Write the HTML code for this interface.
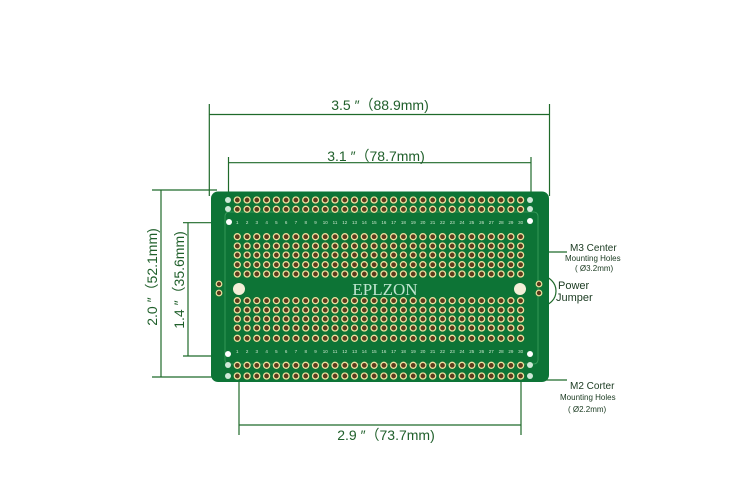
<!DOCTYPE html>
<html><head><meta charset="utf-8"><style>
html,body{margin:0;padding:0;background:#fff;width:750px;height:500px;overflow:hidden}
svg{display:block}
.t{font-family:"Liberation Sans",sans-serif;fill:#1f5f2a;font-size:14px}
</style></head><body>
<svg id="s" width="750" height="500" xmlns="http://www.w3.org/2000/svg">
<g stroke="#1f6a2a" stroke-width="1.2" fill="none">
<line x1="209" y1="114.5" x2="550" y2="114.5"/><line x1="209.3" y1="104" x2="209.3" y2="196"/><line x1="549.5" y1="104" x2="549.5" y2="196"/>
<line x1="228.5" y1="162.7" x2="531" y2="162.7"/><line x1="228.5" y1="157" x2="228.5" y2="200"/><line x1="531" y1="157" x2="531" y2="200"/>
<line x1="152" y1="190" x2="217" y2="190"/><line x1="161" y1="190" x2="161" y2="377"/><line x1="152" y1="377" x2="217" y2="377"/>
<line x1="183" y1="222.7" x2="232" y2="222.7"/><line x1="188" y1="222.7" x2="188" y2="356"/><line x1="183" y1="356" x2="232" y2="356"/>
<line x1="239" y1="290" x2="239" y2="435"/><line x1="521" y1="290" x2="521" y2="435"/><line x1="239" y1="425" x2="521" y2="425"/>
<polyline points="520,290 545,252 567,252"/><polyline points="517,346 545,380 567,380"/>
<path d="M541,276 A14,14 0 0 1 541,306"/>
</g>
<text class="t" x="380" y="110" text-anchor="middle">3.5 ″（88.9mm)</text>
<text class="t" x="376" y="161" text-anchor="middle">3.1 ″（78.7mm)</text>
<text class="t" x="386" y="440" text-anchor="middle">2.9 ″（73.7mm)</text>
<text class="t" transform="translate(157,277) rotate(-90)" text-anchor="middle">2.0 ″（52.1mm)</text>
<text class="t" transform="translate(184,280) rotate(-90)" text-anchor="middle">1.4 ″（35.6mm)</text>
<g font-family="Liberation Sans,sans-serif" fill="#1a3a20">
<text x="570" y="251" font-size="10">M3 Center</text>
<text x="565" y="261" font-size="8">Mounting Holes</text>
<text x="575" y="271" font-size="8">( Ø3.2mm)</text>
<text x="558" y="289" font-size="11">Power</text>
<text x="556" y="301" font-size="11">Jumper</text>
<text x="570" y="389" font-size="10">M2 Corter</text>
<text x="560" y="400" font-size="8">Mounting Holes</text>
<text x="568" y="412" font-size="8">( Ø2.2mm)</text>
</g>
<rect x="211" y="191.5" width="338" height="190.5" rx="7" fill="#0d7436"/>
<rect x="225" y="212" width="313" height="152" rx="4" fill="none" stroke="#3fa060" stroke-width="0.8"/>
<g id="holes"></g>
<text x="385" y="295" text-anchor="middle" font-family="Liberation Serif,serif" font-size="17" fill="#bfe6d0">EPLZON</text>
<circle cx="239" cy="289" r="6" fill="#f4eed8"/><circle cx="520" cy="289" r="6" fill="#f4eed8"/>
<circle cx="229" cy="222" r="3" fill="#fff"/><circle cx="530" cy="221" r="3" fill="#fff"/>
<circle cx="228" cy="354" r="3" fill="#fff"/><circle cx="530" cy="354" r="3" fill="#fff"/>
</svg>
<script>
var g=document.getElementById('holes'),h='';
var ys=[200,209.3,236.7,246,255,264.7,274,300.7,310,319,328,338.3,365.3,376];
for(var i=0;i<30;i++){var x=237.3+i*9.77;
for(var j=0;j<ys.length;j++){h+='<circle cx="'+x.toFixed(1)+'" cy="'+ys[j]+'" r="3" fill="#5e3a1c" stroke="#eee2a0" stroke-width="1.3"/>';}
h+='<text x="'+x.toFixed(1)+'" y="224" font-size="4.5" fill="#cfe8d0" text-anchor="middle" font-family="Liberation Sans">'+(i+1)+'</text>';
h+='<text x="'+x.toFixed(1)+'" y="353" font-size="4.5" fill="#cfe8d0" text-anchor="middle" font-family="Liberation Sans">'+(i+1)+'</text>';}
[200,209,365,376].forEach(function(y){h+='<circle cx="228" cy="'+y+'" r="3" fill="#cfe8d8"/><circle cx="530" cy="'+y+'" r="3" fill="#cfe8d8"/>';});
[284,293].forEach(function(y){h+='<circle cx="219" cy="'+y+'" r="2.8" fill="#5e3a1c" stroke="#eee2a0" stroke-width="1.2"/><circle cx="539" cy="'+y+'" r="2.8" fill="#5e3a1c" stroke="#eee2a0" stroke-width="1.2"/>';});
g.innerHTML=h;
</script>
</body></html>
